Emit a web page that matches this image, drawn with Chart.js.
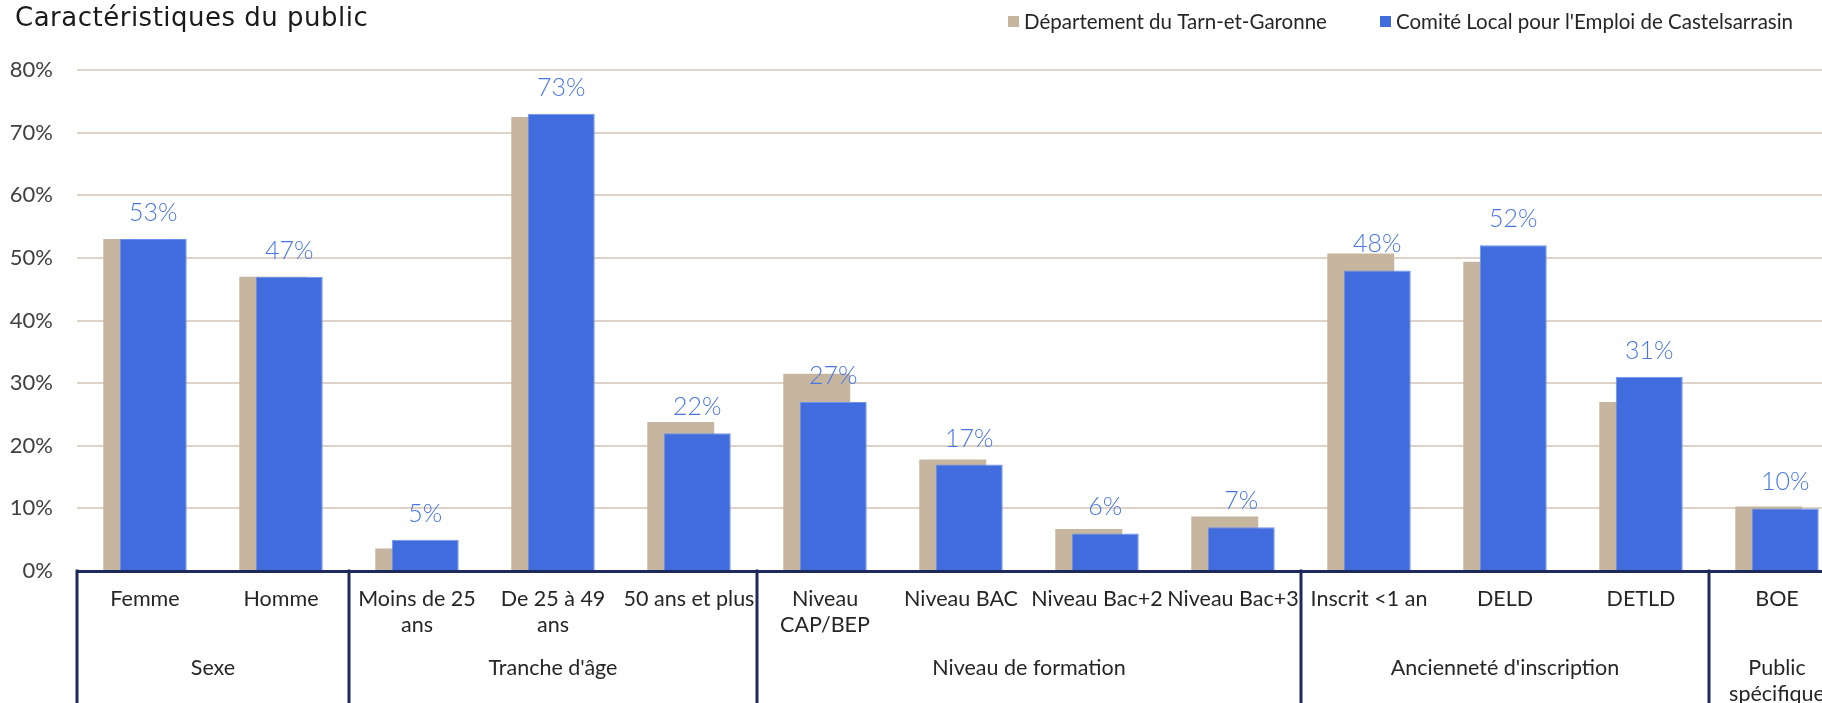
<!DOCTYPE html>
<html lang="fr">
<head>
<meta charset="utf-8">
<title>Caractéristiques du public</title>
<script src="https://cdn.jsdelivr.net/npm/chart.js@4.4.1/dist/chart.umd.min.js"></script>
<style>
  html, body { margin: 0; padding: 0; background: #fff; overflow: hidden; }
  /* the plot runs a little past the right edge of the window */
  .chart-box { position: relative; width: 1860px; height: 703px; }
</style>
</head>
<body>
<div class="chart-box"><canvas id="publicChart"></canvas></div>
<script>
// --- données ---
const categories = [
  ['Femme'], ['Homme'],
  ['Moins de 25', 'ans'], ['De 25 à 49', 'ans'], ['50 ans et plus'],
  ['Niveau', 'CAP/BEP'], ['Niveau BAC'], ['Niveau Bac+2'], ['Niveau Bac+3'],
  ['Inscrit <1 an'], ['DELD'], ['DETLD'],
  ['BOE']
];
const groupNames = [['Sexe'], ["Tranche d'âge"], ['Niveau de formation'], ["Ancienneté d'inscription"], ['Public', 'spécifique']];
const groupSizes = [2, 3, 4, 3, 1];

const seriesNames = ['Département du Tarn-et-Garonne', "Comité Local pour l'Emploi de Castelsarrasin"];
const departement = [53.0, 47.0, 3.6, 72.5, 23.8, 31.5, 17.8, 6.7, 8.7, 50.7, 49.4, 27.0, 10.3];
const comite = [53, 47, 5, 73, 22, 27, 17, 6, 7, 48, 52, 31, 10];

const yTicks = [0, 10, 20, 30, 40, 50, 60, 70, 80];

const TAN = '#C6B6A0';
const BLUE = '#416CDE';
const NAVY = '#1F2A5C';
const FONT = 'Lato';

// tan series sits behind the blue one even though it comes first in the group
const backToFront = {
  id: 'backToFront',
  beforeDatasetsDraw(chart) {
    const ctx = chart.ctx;
    const area = chart.chartArea;
    ctx.save();
    ctx.beginPath();
    ctx.rect(area.left, area.top - 40, area.right - area.left, area.bottom - area.top + 40);
    ctx.clip();
    chart.getSortedVisibleDatasetMetas().forEach(meta => meta.controller.draw());
    ctx.restore();
    return false;
  }
};

// second row of the x axis: group names and the separating rules
const groupAxis = {
  id: 'groupAxis',
  afterDraw(chart) {
    const ctx = chart.ctx;
    const x = chart.scales.x;
    const step = x.width / categories.length;
    const top = chart.chartArea.bottom;
    const bottom = chart.height;

    ctx.save();
    ctx.strokeStyle = NAVY;
    ctx.lineWidth = 3;
    ctx.fillStyle = '#262626';
    ctx.font = `21.5px ${FONT}`;
    ctx.textAlign = 'center';
    ctx.textBaseline = 'middle';

    let start = 0;
    const edges = [x.left];
    groupSizes.forEach((n, g) => {
      const left = x.left + start * step;
      const right = left + n * step;
      edges.push(right);
      groupNames[g].forEach((line, i) => {
        ctx.fillText(line, (left + right) / 2, 668 + i * 26);
      });
      start += n;
    });
    edges.forEach(px => {
      ctx.beginPath();
      ctx.moveTo(px, top - 1.5);
      ctx.lineTo(px, bottom);
      ctx.stroke();
    });
    ctx.restore();
  }
};

// value labels above the blue bars, legend and title
const annotations = {
  id: 'annotations',
  afterDraw(chart) {
    const ctx = chart.ctx;
    ctx.save();

    const meta = chart.getDatasetMeta(1);
    ctx.fillStyle = '#4A76E3';
    ctx.font = `300 25px ${FONT}`;
    ctx.textAlign = 'center';
    ctx.textBaseline = 'alphabetic';
    meta.data.forEach((bar, i) => {
      ctx.fillText(comite[i] + '%', bar.x, bar.y - 18);
    });

    ctx.textAlign = 'left';
    ctx.fillStyle = '#1a1a1a';
    ctx.font = '26px "DejaVu Sans"';
    ctx.letterSpacing = '0.5px';
    ctx.fillText('Caractéristiques du public', 15, 26);
    ctx.letterSpacing = '0px';

    ctx.font = `20.5px ${FONT}`;
    ctx.textBaseline = 'middle';
    const legendX = [1008, 1380];
    chart.data.datasets.forEach((ds, i) => {
      ctx.fillStyle = ds.backgroundColor;
      ctx.fillRect(legendX[i], 16, 11, 11);
      ctx.fillStyle = '#262626';
      ctx.fillText(ds.label, legendX[i] + 16, 22);
    });
    ctx.restore();
  }
};

new Chart(document.getElementById('publicChart'), {
  type: 'bar',
  data: {
    labels: categories,
    datasets: [
      {
        label: seriesNames[0],
        data: departement,
        backgroundColor: TAN,
        borderWidth: 0
      },
      {
        label: seriesNames[1],
        data: comite,
        backgroundColor: BLUE,
        borderColor: '#6E92EC',
        borderWidth: 1
      }
    ]
  },
  options: {
    responsive: true,
    maintainAspectRatio: false,
    animation: false,
    categoryPercentage: 0.2426,
    barPercentage: 4.06,
    layout: { padding: { top: 70, right: 15, bottom: 0, left: 0 } },
    plugins: {
      legend: { display: false },
      title: { display: false },
      tooltip: { enabled: false }
    },
    scales: {
      y: {
        min: 0,
        max: 80,
        afterFit(scale) { scale.width = 77; },
        afterBuildTicks(scale) { scale.ticks = yTicks.map(v => ({ value: v })); },
        ticks: {
          padding: 24,
          color: '#404040',
          font: { family: FONT, size: 22 },
          callback: v => v + '%'
        },
        grid: { color: '#DDD3C6', lineWidth: 2, drawTicks: false },
        border: { display: false }
      },
      x: {
        offset: true,
        afterFit(scale) { scale.height = 132; },
        grid: { display: false, drawTicks: false },
        border: { display: true, color: NAVY, width: 3 },
        ticks: {
          autoSkip: false,
          maxRotation: 0,
          padding: 15,
          color: '#262626',
          font: { family: FONT, size: 21.5, lineHeight: 1.22 }
        }
      }
    }
  },
  plugins: [backToFront, groupAxis, annotations]
});
</script>
</body>
</html>
